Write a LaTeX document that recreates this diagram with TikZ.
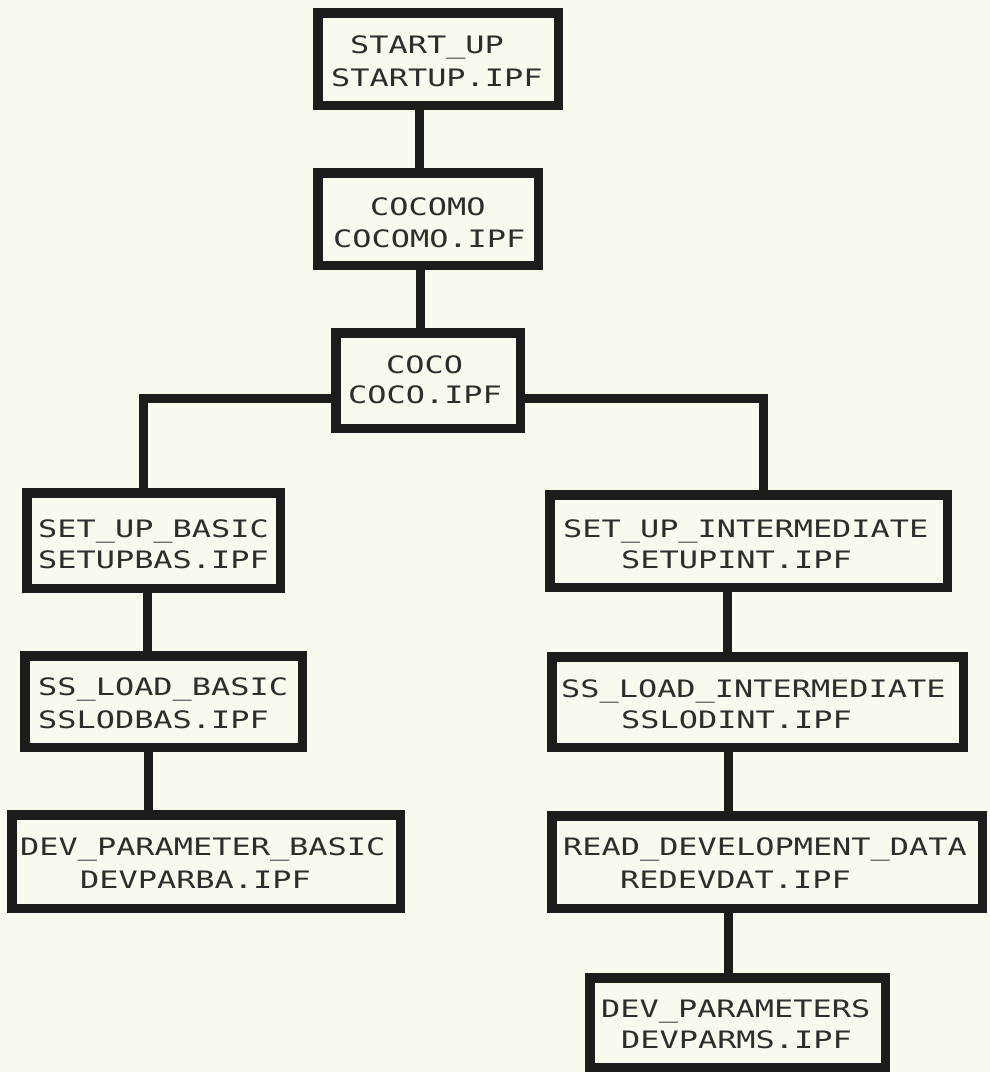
\documentclass[tikz,border=0pt]{standalone}
\usepackage{fontspec}
\newfontfamily\plotfont[FakeStretch=1.33]{DejaVu Sans Mono}
\definecolor{paper}{RGB}{250,249,238}
\definecolor{ink}{RGB}{28,28,28}
\definecolor{textink}{RGB}{45,45,45}
\begin{document}
\begin{tikzpicture}[x=1pt,y=-1pt,
  box/.style={draw=ink, line width=9.5pt, inner sep=0pt, fill=paper, rectangle},
  conn/.style={draw=ink, line width=9pt, line join=miter},
  lbl/.style={anchor=base west, inner sep=0pt, text=textink, font=\plotfont\fontsize{24}{28}\selectfont}]
\fill[paper] (0,0) rectangle (990,1072);
\useasboundingbox (0,0) rectangle (990,1072);

% boxes
\node[box, minimum width=240.5pt, minimum height=92.5pt] (b1) at (438,59) {};
\node[box, minimum width=220.5pt, minimum height=92.5pt] (b2) at (428,219) {};
\node[box, minimum width=184.5pt, minimum height=95.5pt] (b3) at (428,380.5) {};
\node[box, minimum width=253.5pt, minimum height=95.5pt] (b4) at (153.5,540.5) {};
\node[box, minimum width=277.5pt, minimum height=91.5pt] (b5) at (163.5,701.5) {};
\node[box, minimum width=388.5pt, minimum height=93.5pt] (b6) at (206,861.5) {};
\node[box, minimum width=397.5pt, minimum height=92.5pt] (b7) at (748.5,541) {};
\node[box, minimum width=411.5pt, minimum height=90.5pt] (b8) at (757.5,702) {};
\node[box, minimum width=430.5pt, minimum height=92.5pt] (b9) at (767,862) {};
\node[box, minimum width=295.5pt, minimum height=90pt] (b10) at (737.5,1023) {};

% connector guide coordinates
\coordinate (k12) at (419,0);
\coordinate (k23) at (420,0);
\coordinate (jl) at (143,398);
\coordinate (jr) at (763,398);
\coordinate (k45) at (147,0);
\coordinate (k56) at (148,0);
\coordinate (k78) at (727,0);
\coordinate (k89) at (728,0);
\coordinate (k910) at (728,0);

% connectors
\draw[conn] (b1.south -| k12) -- (b2.north -| k12);
\draw[conn] (b2.south -| k23) -- (b3.north -| k23);
\draw[conn] (b3.west |- jl) -- (jl) -- (jl |- b4.north);
\draw[conn] (b3.east |- jr) -- (jr) -- (jr |- b7.north);
\draw[conn] (b4.south -| k45) -- (b5.north -| k45);
\draw[conn] (b5.south -| k56) -- (b6.north -| k56);
\draw[conn] (b7.south -| k78) -- (b8.north -| k78);
\draw[conn] (b8.south -| k89) -- (b9.north -| k89);
\draw[conn] (b9.south -| k910) -- (b10.north -| k910);

% labels
\node[lbl] (t1a) at (350,53) {START\_UP};
\node[lbl] (t1b) at (331,86) {STARTUP.IPF};
\node[lbl] (t2a) at (370,215) {COCOMO};
\node[lbl] (t2b) at (333,247) {COCOMO.IPF};
\node[lbl] (t3a) at (386,373) {COCO};
\node[lbl] (t3b) at (348,403) {COCO.IPF};
\node[lbl] (t4a) at (38,537) {SET\_UP\_BASIC};
\node[lbl] (t4b) at (38,568) {SETUPBAS.IPF};
\node[lbl] (t5a) at (38,695) {SS\_LOAD\_BASIC};
\node[lbl] (t5b) at (38,728) {SSLODBAS.IPF};
\node[lbl] (t6a) at (20,855) {DEV\_PARAMETER\_BASIC};
\node[lbl] (t6b) at (80,888) {DEVPARBA.IPF};
\node[lbl] (t7a) at (563,537) {SET\_UP\_INTERMEDIATE};
\node[lbl] (t7b) at (621,568) {SETUPINT.IPF};
\node[lbl] (t8a) at (561,697) {SS\_LOAD\_INTERMEDIATE};
\node[lbl] (t8b) at (621,728) {SSLODINT.IPF};
\node[lbl] (t9a) at (563,855) {READ\_DEVELOPMENT\_DATA};
\node[lbl] (t9b) at (620,888) {REDEVDAT.IPF};
\node[lbl] (t10a) at (601,1017) {DEV\_PARAMETERS};
\node[lbl] (t10b) at (621,1048) {DEVPARMS.IPF};
\end{tikzpicture}
\end{document}
